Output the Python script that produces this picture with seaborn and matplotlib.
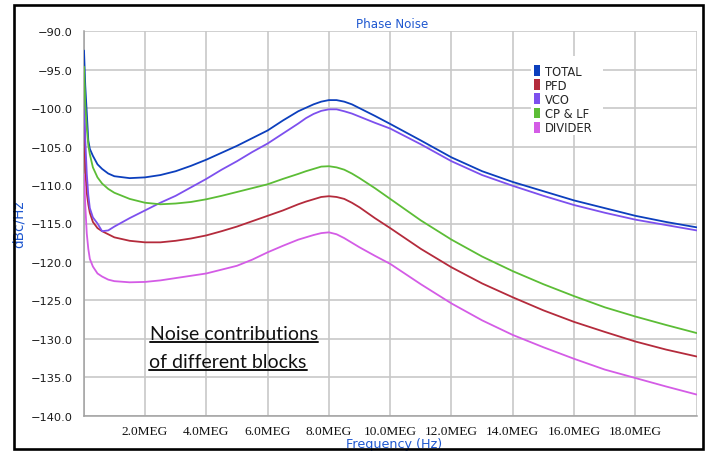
import numpy as np
import pandas as pd
import matplotlib
matplotlib.use("Agg")
import matplotlib.pyplot as plt
from matplotlib.patches import Patch, Rectangle
from matplotlib.lines import Line2D
from matplotlib.ticker import FixedLocator, MultipleLocator, FuncFormatter
import seaborn as sns

# Offset frequency in MHz
freq_mhz = [0.01, 0.05, 0.1, 0.15, 0.2, 0.3, 0.45, 0.6, 0.8, 1.0, 1.5, 2, 2.5, 3, 3.5, 4,
            4.5, 5, 5.5, 6, 6.5, 7, 7.25, 7.5, 7.75, 8, 8.25, 8.5, 8.75, 9, 9.5, 10,
            11, 12, 13, 14, 15, 16, 17, 18, 19, 20]

# Phase noise (dBc/Hz) of each block
total = [-92.5, -97.0, -100.6, -104.2, -105.3, -106.2, -107.3, -107.9, -108.5, -108.85,
         -109.1, -109.0, -108.7, -108.2, -107.5, -106.7, -105.8, -104.9, -103.9, -102.9,
         -101.6, -100.4, -99.95, -99.5, -99.15, -98.95, -98.95, -99.15, -99.5, -100.0,
         -101.0, -102.05, -104.2, -106.4, -108.2, -109.6, -110.8, -112.0, -113.0, -114.0,
         -114.8, -115.5]
pfd = [-101.4, -108.0, -111.0, -112.5, -113.6, -114.8, -115.6, -116.0, -116.4, -116.8,
       -117.25, -117.45, -117.45, -117.25, -116.95, -116.55, -116.0, -115.4, -114.7, -114.0,
       -113.3, -112.5, -112.15, -111.85, -111.55, -111.45, -111.55, -111.8, -112.3, -112.9,
       -114.3, -115.6, -118.3, -120.7, -122.8, -124.6, -126.3, -127.8, -129.1, -130.35,
       -131.4, -132.3]
vco = [-96.0, -104.0, -108.5, -111.3, -113.0, -114.2, -115.0, -116.0, -115.9, -115.4,
       -114.3, -113.3, -112.3, -111.4, -110.3, -109.2, -108.0, -106.9, -105.7, -104.6,
       -103.3, -102.0, -101.3, -100.75, -100.35, -100.15, -100.15, -100.4, -100.7, -101.1,
       -101.9, -102.65, -104.7, -106.9, -108.7, -110.1, -111.4, -112.6, -113.6, -114.5,
       -115.2, -115.9]
cp_lf = [-94.6, -99.5, -102.5, -104.8, -106.0, -107.7, -109.0, -109.8, -110.5, -111.0,
         -111.8, -112.3, -112.5, -112.4, -112.2, -111.85, -111.4, -110.9, -110.4, -109.9,
         -109.2, -108.55, -108.2, -107.9, -107.6, -107.55, -107.7, -108.0, -108.5, -109.1,
         -110.4, -111.8, -114.6, -117.1, -119.3, -121.2, -122.9, -124.45, -125.9, -127.1,
         -128.2, -129.25]
divider = [-108.6, -112.5, -116.3, -118.3, -119.6, -120.6, -121.5, -121.9, -122.3, -122.5,
           -122.65, -122.6, -122.4, -122.1, -121.8, -121.5, -121.0, -120.5, -119.7, -118.75,
           -117.9, -117.1, -116.8, -116.5, -116.25, -116.15, -116.4, -116.9, -117.5, -118.1,
           -119.2, -120.25, -122.9, -125.4, -127.6, -129.5, -131.1, -132.6, -134.0, -135.1,
           -136.2, -137.25]

blocks = ["TOTAL", "PFD", "VCO", "CP & LF", "DIVIDER"]
colors = ["#0c3fbd", "#b42b3c", "#7d50ee", "#5cbd36", "#d45ce6"]

xtick_labels = ["", "2.0MEG", "4.0MEG", "6.0MEG", "8.0MEG", "10.0MEG",
                "12.0MEG", "14.0MEG", "16.0MEG", "18.0MEG", ""]

series = dict(zip(blocks, [total, pfd, vco, cp_lf, divider]))
df = pd.concat(
    [pd.DataFrame({"freq": np.array(freq_mhz) * 1e6, "dbc": vals, "block": name})
     for name, vals in series.items()],
    ignore_index=True,
)

sns.set_style("white")
plt.rcParams["font.family"] = ["DejaVu Sans"]

W, H = 709, 452
fig = plt.figure(figsize=(W / 100, H / 100), dpi=100)
fig.patch.set_facecolor("white")

x0, x1, ytop, ybot = 83.7, 696.7, 32.3, 416.7
ax = fig.add_axes([x0 / W, 1 - ybot / H, (x1 - x0) / W, (ybot - ytop) / H])

palette = dict(zip(blocks, colors))
sns.lineplot(data=df, x="freq", y="dbc", hue="block", hue_order=blocks,
             palette=palette, legend=False, ax=ax, linewidth=1.3, zorder=3)

ax.set_xlim(0, 20e6)
ax.set_ylim(-140, -90)
ax.set_axisbelow(True)

# grid and ticks
ax.xaxis.set_major_locator(FixedLocator(np.arange(0, 20.1e6, 2e6)))
ax.set_xticklabels(xtick_labels)
ax.xaxis.set_minor_locator(MultipleLocator(0.4e6))
ax.yaxis.set_major_locator(MultipleLocator(5))
ax.yaxis.set_minor_locator(MultipleLocator(2.5))
ax.yaxis.set_major_formatter(FuncFormatter(lambda v, p: f"{v:.1f}".replace("-", "\u2212")))

ax.grid(True, which="major", color="#c8c8c8", linewidth=1.2)
for side in ["top", "right"]:
    ax.spines[side].set_visible(False)
for side in ["left", "bottom"]:
    ax.spines[side].set_color("#a0a0a0")
    ax.spines[side].set_linewidth(1.1)

ax.tick_params(axis="y", which="major", length=6, width=0.9, color="#909090",
               pad=2, labelsize=8.2, labelcolor="#1a1a1a")
ax.tick_params(axis="y", which="minor", length=3.5, width=0.9, color="#909090")
ax.tick_params(axis="x", which="major", length=5, width=0.9, color="#909090",
               pad=2.0, labelsize=9.6, labelcolor="#111111")
ax.tick_params(axis="x", which="minor", length=2.7, width=0.9, color="#909090")
for lab in ax.get_xticklabels():
    lab.set_fontfamily("Liberation Serif")

label_blue = "#1f58d0"
ax.set_xlabel("Frequency (Hz)", fontsize=9.2, color=label_blue)
ax.xaxis.set_label_coords((394 - x0) / (x1 - x0), -0.056)
ax.set_ylabel("dBc/Hz", fontsize=9.8, color=label_blue)
ax.yaxis.set_label_coords(-0.094, 0.5)
fig.text(392 / W, 1 - 25 / H, "Phase Noise", fontsize=8.6, color=label_blue,
         ha="center", va="center")

# legend with plain colour swatches on a white patch that hides the grid
ax.add_patch(Rectangle((0.7297, 0.7306), 0.1179, 0.2051, transform=ax.transAxes,
                       facecolor="white", edgecolor="none", zorder=1))
handles = [Patch(facecolor=c, edgecolor="none", label=b) for b, c in zip(blocks, colors)]
fig.legend(handles=handles, loc="upper left", bbox_to_anchor=(534.3 / W, 1 - 65.5 / H),
           frameon=False, fontsize=8.3, handlelength=0.49, handleheight=1.07,
           handletextpad=0.45, labelspacing=0.1, borderpad=0, borderaxespad=0)

# underlined annotation
note_lines = ["Noise contributions", "of different blocks"]
note_pos = [(150, 340), (149.3, 368.3)]
notes = []
for txt, (px, py) in zip(note_lines, note_pos):
    notes.append(fig.text(px / W, 1 - py / H, txt, fontsize=14.0, family="Lato",
                          color="#111111", ha="left", va="baseline"))
fig.canvas.draw()
renderer = fig.canvas.get_renderer()
for t, (px, py) in zip(notes, note_pos):
    bb = t.get_window_extent(renderer)
    yy = 1 - (py + 2.8) / H
    fig.add_artist(Line2D([bb.x0 / W, bb.x1 / W], [yy, yy], color="#111111",
                          linewidth=1.4, transform=fig.transFigure))

# outer frame
fig.add_artist(Rectangle((14 / W, 1 - 450 / H), (703 - 14) / W, (450 - 5.7) / H,
                         transform=fig.transFigure, fill=False, edgecolor="black",
                         linewidth=1.9))

fig.savefig("out.png", dpi=100, facecolor="white")
